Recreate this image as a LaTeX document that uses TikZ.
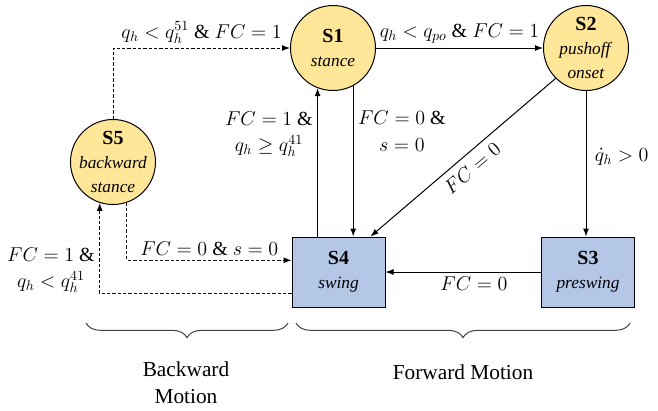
\documentclass[tikz,border=0pt]{standalone}
\usepackage{fix-cm}
\usepackage{fontspec}
\setmainfont{Liberation Serif}
\usetikzlibrary{arrows.meta,decorations.pathreplacing}

\definecolor{stateyellow}{HTML}{FFE699}
\definecolor{stateblue}{HTML}{B4C7E7}

\begin{document}
\begin{tikzpicture}[x=0.75pt,y=-0.75pt,line width=0.75pt,
  >={Latex[length=6pt,width=4.5pt]},
  circstate/.style={circle,draw,fill=stateyellow,minimum size=63.75pt,inner sep=0pt},
  boxstate/.style={rectangle,draw,fill=stateblue,minimum width=69.75pt,minimum height=52.5pt,inner sep=0pt,align=center,font=\fontsize{13}{18}\selectfont},
  txt/.style={align=center,font=\fontsize{13}{18}\selectfont},
  cond/.style={align=center,font=\fontsize{15}{20}\selectfont},
  dashline/.style={dash pattern=on 2.5pt off 1.5pt},
  motionbrace/.style={decorate,decoration={brace,mirror,amplitude=11pt},draw=black!75},
  motion/.style={align=center,font=\fontsize{16}{20}\selectfont}]
\useasboundingbox (0,0) rectangle (658,411);

% states
\node[circstate,label={[txt]center:{\fontsize{15}{18}\selectfont\bfseries S1}\\\textit{stance}}] (s1) at (333,48) {};
\node[circstate,label={[txt]center:{\fontsize{15}{18}\selectfont\bfseries S2}\\\textit{pushoff}\\\textit{onset}}] (s2) at (586,48) {};
\node[circstate,label={[txt]center:{\fontsize{15}{18}\selectfont\bfseries S5}\\\textit{backward}\\\textit{stance}}] (s5) at (113,162) {};
\node[boxstate] (s4) at (338.5,272) {{\fontsize{15}{18}\selectfont\bfseries S4}\\\textit{swing}};
\node[boxstate] (s3) at (588,272) {{\fontsize{15}{18}\selectfont\bfseries S3}\\\textit{preswing}};

% forward transitions
\draw[->] (s1) -- node[cond,above] {$q_h<q_{po}$ \& $FC=1$} (s2);
\draw[->] (s1.-62) -- node[cond,pos=0.3,right] {$FC=0$ \&\\$s=0$} (s1.-62 |- s4.north);
\draw[->] (s1.249 |- s4.north) -- node[cond,pos=0.69,left] {$FC=1$ \&\\$q_h\geq q_h^{41}$} (s1.249);
\draw[->] (s2.225) -- node[cond,sloped,pos=0.5,anchor=north,inner sep=5pt] {$FC=0$} (s4.48);
\draw[->] (s2.south) -- node[cond,pos=0.45,right,xshift=3pt] {$\dot{q}_h>0$} (s2.south |- s3.north);
\draw[->] (s3) -- node[cond,below,xshift=8pt] {$FC=0$} (s4);

% backward transitions
\draw[dashline,->] (s5.north) |- node[cond,above,pos=0.75] {$q_h<q_h^{51}$ \& $FC=1$} (s1.west);
\draw[dashline,->] (s5.-71) |- node[cond,above,pos=0.75] {$FC=0$ \& $s=0$} (s4.166);
\draw[dashline,->] (s4.205) -| node[cond,left,pos=0.63] {$FC=1$ \&\\$q_h<q_h^{41}$} (s5.252);

% braces
\draw[motionbrace] (86,323) -- (288,323);
\draw[motionbrace] (296,323) -- (630,323);
\node[motion] (bwd) at (186,383) {Backward\\Motion};
\node[motion] (fwd) at (463,372) {Forward Motion};
\end{tikzpicture}
\end{document}
